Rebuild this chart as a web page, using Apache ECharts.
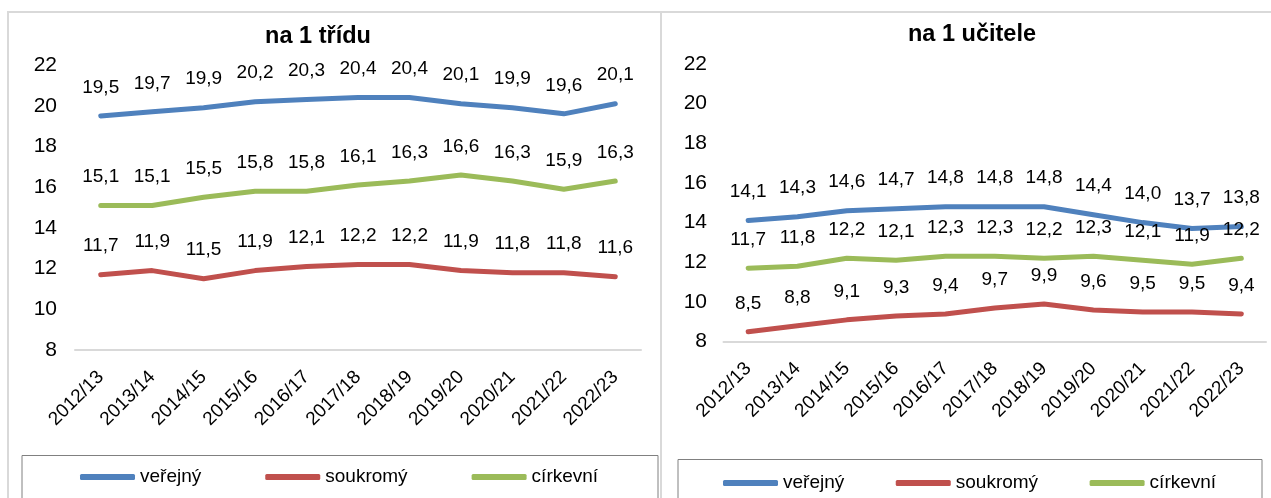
<!DOCTYPE html>
<html>
<head>
<meta charset="utf-8">
<script src="https://cdn.jsdelivr.net/npm/echarts@6/dist/echarts.min.js"></script>
<style>
html,body{margin:0;padding:0;background:#fff;}
#c{width:1271px;height:498px;}
</style>
</head>
<body>
<div id="c"></div>
<script>
const categories = ['2012/13','2013/14','2014/15','2015/16','2016/17','2017/18','2018/19','2019/20','2020/21','2021/22','2022/23'];
const seriesNames = ['veřejný','soukromý','církevní'];
const yTicks = [8,10,12,14,16,18,20,22];

const tridaVerejny  = [19.5,19.7,19.9,20.2,20.3,20.4,20.4,20.1,19.9,19.6,20.1];
const tridaSoukromy = [11.7,11.9,11.5,11.9,12.1,12.2,12.2,11.9,11.8,11.8,11.6];
const tridaCirkevni = [15.1,15.1,15.5,15.8,15.8,16.1,16.3,16.6,16.3,15.9,16.3];

const ucitelVerejny  = [14.1,14.3,14.6,14.7,14.8,14.8,14.8,14.4,14.0,13.7,13.8];
const ucitelSoukromy = [8.5,8.8,9.1,9.3,9.4,9.7,9.9,9.6,9.5,9.5,9.4];
const ucitelCirkevni = [11.7,11.8,12.2,12.1,12.3,12.3,12.2,12.3,12.1,11.9,12.2];

const titles = ['na 1 třídu','na 1 učitele'];

const FONT = '"Liberation Sans", Arial, sans-serif';
const colors = ['#4F81BD','#C0504D','#9BBB59'];
const fmt = v => v.toFixed(1).replace('.', ',');

const chart = echarts.init(document.getElementById('c'));

function mkSeries(name, data, idx, color) {
  return {
    name: name, type: 'line', data: data,
    xAxisIndex: idx, yAxisIndex: idx,
    symbol: 'circle', symbolSize: 0, showSymbol: true, smooth: false,
    lineStyle: {width: 5, color: color, cap: 'round', join: 'round'},
    itemStyle: {color: color},
    label: {show: true, position: 'top', distance: 19, color: '#000',
            fontSize: 19, fontFamily: FONT, formatter: p => fmt(p.value)},
    labelLayout: {hideOverlap: false},
    emphasis: {disabled: true},
    animation: false
  };
}

function mkX(idx) {
  return {
    type: 'category', gridIndex: idx, data: categories, boundaryGap: true,
    axisLine: {show: true, lineStyle: {color: '#d9d9d9', width: 2}},
    axisTick: {show: false},
    axisLabel: {rotate: 45, margin: 24, color: '#000', fontSize: 19, fontFamily: FONT, interval: 0}
  };
}
function mkY(idx, margin) {
  return {
    type: 'value', gridIndex: idx, min: yTicks[0], max: yTicks[yTicks.length-1], interval: 2,
    axisLine: {show: false}, axisTick: {show: false}, splitLine: {show: false},
    axisLabel: {margin: margin, color: '#000', fontSize: 21, fontFamily: FONT}
  };
}

chart.setOption({
  animation: false,
  textStyle: {fontFamily: FONT},
  grid: [
    {left: 75, right: 1271-641, top: 65, bottom: 498-350},
    {left: 723.5, right: 5, top: 63.8, bottom: 498-341.7}
  ],
  xAxis: [mkX(0), mkX(1)],
  yAxis: [mkY(0, 18), mkY(1, 16.5)],
  legend: [
    {data: seriesNames, left: 75, top: 461, itemWidth: 55, itemHeight: 6, itemGap: 64,
     icon: 'roundRect', textStyle: {fontSize: 19, color: '#000', fontFamily: FONT, lineHeight: 22}},
    {data: seriesNames, left: 718, top: 467, itemWidth: 55, itemHeight: 6, itemGap: 51.5,
     icon: 'roundRect', textStyle: {fontSize: 19, color: '#000', fontFamily: FONT, lineHeight: 22}}
  ],
  graphic: [
    {type: 'rect', shape: {x: 8, y: 12, width: 653, height: 520}, style: {fill: 'none', stroke: '#d9d9d9', lineWidth: 2}, silent: true},
    {type: 'rect', shape: {x: 661, y: 12, width: 640, height: 520}, style: {fill: 'none', stroke: '#d9d9d9', lineWidth: 2}, silent: true},
    {type: 'rect', shape: {x: 22, y: 455.5, width: 636, height: 80}, style: {fill: 'none', stroke: '#808080', lineWidth: 1}, silent: true},
    {type: 'rect', shape: {x: 678, y: 459.5, width: 584, height: 80}, style: {fill: 'none', stroke: '#808080', lineWidth: 1}, silent: true},
    {type: 'text', x: 318, y: 37, style: {text: titles[0], align: 'center', verticalAlign: 'middle', font: 'bold 23.5px ' + FONT, fill: '#000'}, silent: true},
    {type: 'text', x: 972, y: 35, style: {text: titles[1], align: 'center', verticalAlign: 'middle', font: 'bold 23.5px ' + FONT, fill: '#000'}, silent: true}
  ],
  series: [
    mkSeries(seriesNames[0], tridaVerejny, 0, colors[0]),
    mkSeries(seriesNames[1], tridaSoukromy, 0, colors[1]),
    mkSeries(seriesNames[2], tridaCirkevni, 0, colors[2]),
    mkSeries(seriesNames[0], ucitelVerejny, 1, colors[0]),
    mkSeries(seriesNames[1], ucitelSoukromy, 1, colors[1]),
    mkSeries(seriesNames[2], ucitelCirkevni, 1, colors[2])
  ]
});
</script>
</body>
</html>
